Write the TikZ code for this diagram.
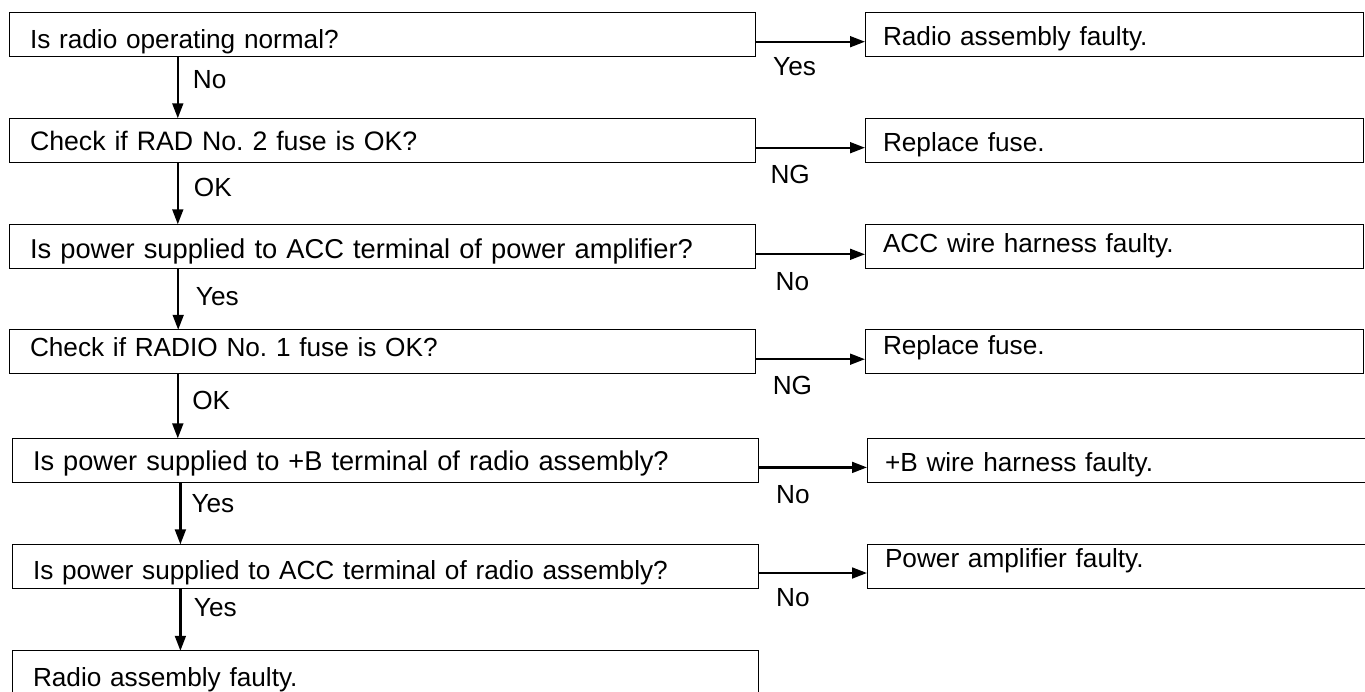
\documentclass[tikz,border=0pt]{standalone}
\usepackage{fontspec}
\setmainfont{Liberation Sans}
\usetikzlibrary{arrows.meta,positioning}
\newcommand\fsz{\fontsize{13.1pt}{15pt}\selectfont}
\frenchspacing
\tikzset{
  %% question block (left column), #1 = baseline below top edge
  qblk/.style={rectangle,draw,line width=0.5pt,outer sep=0pt,
    minimum width=373pt,minimum height=22pt,text width=352pt,
    inner xsep=10.5pt,inner ysep=0pt,align=left,font=\fsz,
    text height=#1,text depth=22pt-#1},
  qblk/.default=17pt,
  %% result block (right column)
  rblk/.style={rectangle,draw,line width=0.5pt,outer sep=0pt,
    minimum width=249pt,minimum height=22pt,text width=231pt,
    inner xsep=9pt,inner ysep=0pt,align=left,font=\fsz,
    text height=#1,text depth=22pt-#1},
  rblk/.default=16.7pt,
  %% slightly wider lettering
  wide/.style={font=\fontsize{#1}{15pt}\selectfont},
  %% arrows
  arr/.style={-{Triangle[length=7.5pt,width=5.4pt]},line width=1.15pt},
  lbl/.style={font=\fsz,inner sep=0pt,text height=9.3pt,text depth=0pt},
}
\begin{document}
\begin{tikzpicture}
  \useasboundingbox (0,0) rectangle (682.5pt,-345.5pt);

  %% Left column (top to bottom)
  \node[qblk=18pt,anchor=north west] (opn) at (4.5pt,-6.15pt) {Is radio operating normal?};
  \node[qblk=15.9pt,wide=13.35pt,below=31pt of opn] (rad2) {Check if RAD No. 2 fuse is OK?};
  \node[qblk=17pt,wide=13.65pt,below=31pt of rad2] (accpa) {Is power supplied to ACC terminal of power amplifier?};
  \node[qblk=13.5pt,below=30.75pt of accpa] (rad1) {Check if RADIO No. 1 fuse is OK?};
  \node[qblk=16.2pt,wide=13.6pt,below=32.3pt of rad1,xshift=1.5pt] (bpwr) {Is power supplied to +B terminal of radio assembly?};
  \node[qblk=17.4pt,below=31pt of bpwr]    (accra) {Is power supplied to ACC terminal of radio assembly?};
  \node[qblk=18pt,below=31.2pt of accra]   (asy)   {Radio assembly faulty.};

  %% Right column
  \node[rblk=16.7pt,right=55pt of opn]    (asyf)  {Radio assembly faulty.};
  \node[rblk=16.7pt,right=55pt of rad2]   (fusea) {Replace fuse.};
  \node[rblk=14.2pt,right=55pt of accpa]  (accw)  {ACC wire harness faulty.};
  \node[rblk=12.3pt,right=55pt of rad1]   (fuseb) {Replace fuse.};
  \node[rblk=16.7pt,right=54.5pt of bpwr] (bw)    {+B wire harness faulty.};
  \node[rblk=11.7pt,right=54.5pt of accra] (pamp) {Power amplifier faulty.};

  %% Down arrows
  \draw[arr] ([xshift=84.4pt]opn.south west) -- ([xshift=84.4pt]opn.south west |- rad2.north)
    node[lbl,anchor=west,pos=.37,xshift=7pt]{No};
  \draw[arr] ([xshift=84.4pt]rad2.south west) -- ([xshift=84.4pt]rad2.south west |- accpa.north)
    node[lbl,anchor=west,pos=.40,xshift=7.5pt]{OK};
  \draw[arr] ([xshift=84.6pt]accpa.south west) -- ([xshift=84.6pt]accpa.south west |- rad1.north)
    node[lbl,anchor=west,pos=.45,xshift=8.3pt]{Yes};
  \draw[arr] ([xshift=84.4pt]rad1.south west) -- ([xshift=84.4pt]rad1.south west |- bpwr.north)
    node[lbl,anchor=west,pos=.41,xshift=6.7pt]{OK};
  \draw[arr] ([xshift=84.2pt]bpwr.south west) -- ([xshift=84.2pt]bpwr.south west |- accra.north)
    node[lbl,anchor=west,pos=.33,xshift=5pt]{Yes};
  \draw[arr] ([xshift=84.2pt]accra.south west) -- ([xshift=84.2pt]accra.south west |- asy.north)
    node[lbl,anchor=west,pos=.30,xshift=6.2pt]{Yes};

  %% Side arrows
  \draw[arr] ([yshift=-3.7pt]opn.east) -- ([yshift=-3.7pt]asyf.west)
    node[lbl,pos=.36,yshift=-12.2pt]{Yes};
  \draw[arr] ([yshift=-3.7pt]rad2.east) -- ([yshift=-3.7pt]fusea.west)
    node[lbl,pos=.32,yshift=-13.2pt]{NG};
  \draw[arr] ([yshift=-4pt]accpa.east) -- ([yshift=-4pt]accw.west)
    node[lbl,pos=.34,yshift=-13.5pt]{No};
  \draw[arr] ([yshift=-3.7pt]rad1.east) -- ([yshift=-3.7pt]fuseb.west)
    node[lbl,pos=.34,yshift=-12.9pt]{NG};
  \draw[arr] ([yshift=-3.5pt]bpwr.east) -- ([yshift=-3.5pt]bw.west)
    node[lbl,pos=.32,yshift=-13.5pt]{No};
  \draw[arr] ([yshift=-3.3pt]accra.east) -- ([yshift=-3.3pt]pamp.west)
    node[lbl,pos=.32,yshift=-12pt]{No};

\end{tikzpicture}
\end{document}
